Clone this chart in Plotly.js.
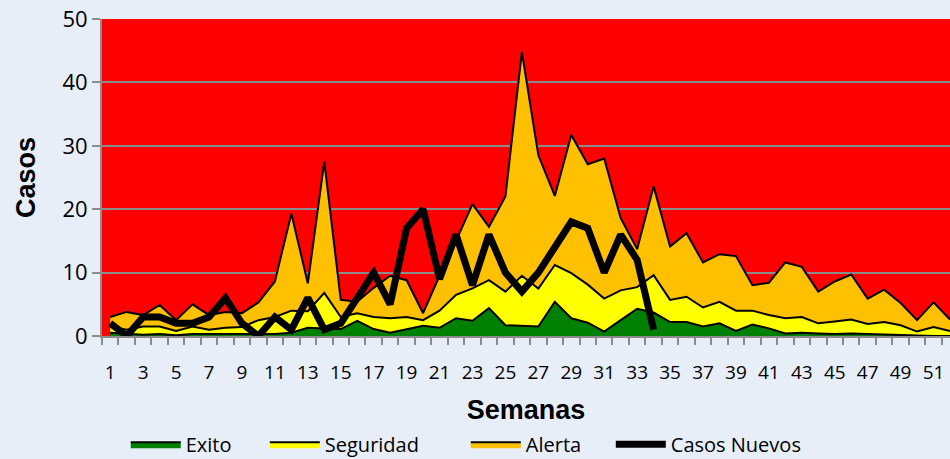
<!DOCTYPE html>
<html>
<head>
<meta charset="utf-8">
<script src="https://cdn.plot.ly/plotly-3.0.1.min.js"></script>
<style>html,body{margin:0;padding:0;background:#e7eef8;}#chart{width:950px;height:459px;}</style>
</head>
<body>
<div id="chart"></div>
<script>
// Weeks (categories)
const weeks = [1,2,3,4,5,6,7,8,9,10,11,12,13,14,15,16,17,18,19,20,21,22,23,24,25,26,
               27,28,29,30,31,32,33,34,35,36,37,38,39,40,41,42,43,44,45,46,47,48,49,50,51,52];
// Channel thresholds (cumulative levels)
const exito = [0.5,0.3,0.2,0.3,0.1,0.3,0.3,0.2,0.3,0.3,0.3,0.5,1.3,1.2,1.1,2.4,1.1,0.5,1.1,1.6,1.3,2.8,2.4,4.4,1.7,1.6,
               1.5,5.4,2.8,2.1,0.7,2.5,4.3,3.7,2.2,2.2,1.5,2.0,0.8,1.8,1.2,0.4,0.5,0.4,0.3,0.4,0.3,0.2,0.2,0,0,0];
const seguridad = [1.5,1.0,1.5,1.5,0.8,1.5,1.0,1.3,1.4,2.5,3.0,4.0,3.9,6.8,3.0,3.6,3.0,2.8,3.0,2.5,4.0,6.5,7.5,8.8,7.0,9.5,
               7.5,11.2,9.9,8.1,5.9,7.2,7.7,9.6,5.7,6.2,4.5,5.4,4.0,4.0,3.3,2.8,3.0,2.0,2.3,2.6,1.9,2.2,1.7,0.7,1.4,0.8];
const alerta = [3.0,3.8,3.3,4.9,2.5,5.0,3.3,3.8,3.6,5.3,8.6,19.3,8.3,27.5,5.7,5.4,7.6,9.5,8.8,3.6,9.5,15.0,20.8,17.2,22.0,44.8,
               28.5,22.1,31.7,27.1,28.0,18.6,13.7,23.6,14.1,16.2,11.6,12.9,12.6,8.0,8.4,11.6,10.9,7.0,8.6,9.7,5.9,7.3,5.2,2.5,5.3,2.6];
// New cases (weeks 1-34)
const casosWeeks = weeks.slice(0, 34);
const casosNuevos = [2,0,3,3,2,2,3,6,2,0,3,1,6,1,2,6,10,5,17,20,9,16,8,16,10,7,10,14,18,17,10,16,12,1];
// Tick labels
const tickWeeks = [1,3,5,7,9,11,13,15,17,19,21,23,25,27,29,31,33,35,37,39,41,43,45,47,49,51];

const txt = '"Open Sans", "Noto Sans", sans-serif';
const bold = '"Liberation Sans", Arial, sans-serif';

const traces = [
  {x: weeks, y: exito, name: 'Exito', type: 'scatter', mode: 'lines', fill: 'tozeroy',
   fillcolor: '#008000', line: {color: '#000000', width: 2}, legend: 'legend'},
  {x: weeks, y: seguridad, name: 'Seguridad', type: 'scatter', mode: 'lines', fill: 'tonexty',
   fillcolor: '#ffff00', line: {color: '#000000', width: 2}, legend: 'legend2'},
  {x: weeks, y: alerta, name: 'Alerta', type: 'scatter', mode: 'lines', fill: 'tonexty',
   fillcolor: '#ffc000', line: {color: '#000000', width: 2}, legend: 'legend3'},
  {x: casosWeeks, y: casosNuevos, name: 'Casos Nuevos', type: 'scatter', mode: 'lines',
   line: {color: '#000000', width: 7}, legend: 'legend4'}
];

const legBase = {
  orientation: 'h', yref: 'container', y: 0.032, yanchor: 'middle', xanchor: 'left',
  font: {family: txt, size: 20, color: '#000'},
  bgcolor: 'rgba(0,0,0,0)', itemwidth: 50
};

const layout = {
  width: 950, height: 459,
  margin: {l: 102, r: 0, t: 19, b: 123},
  paper_bgcolor: '#e7eef8',
  plot_bgcolor: '#ff0000',
  showlegend: true,
  hovermode: false,
  xaxis: {
    automargin: false,
    range: [0.5, 52.0],
    tickvals: tickWeeks, ticktext: tickWeeks.map(String),
    ticks: '', showgrid: false, zeroline: false,
    showline: true, linecolor: '#8c8c8c', linewidth: 2,
    tickfont: {family: txt, size: 19, color: '#000'},
    ticklabelstandoff: 18,
    minor: {tick0: 0.5, dtick: 1, ticks: 'outside', ticklen: 7, tickcolor: '#8c8c8c', tickwidth: 2, showgrid: false},
    title: {text: 'Semanas', font: {family: bold, size: 27, color: '#000', weight: 'bold'}, standoff: 25}
  },
  yaxis: {
    automargin: false,
    range: [0, 50], tickvals: [0,10,20,30,40,50],
    ticks: 'outside', ticklen: 8, tickcolor: '#8c8c8c', tickwidth: 2,
    showgrid: true, gridcolor: '#8c8c8c', gridwidth: 2,
    zeroline: false, showline: true, linecolor: '#8c8c8c', linewidth: 2,
    tickfont: {family: txt, size: 22, color: '#000'},
    title: {text: 'Casos', font: {family: bold, size: 27, color: '#000', weight: 'bold'}, standoff: 19}
  },
  legend: Object.assign({}, legBase, {x: 0.028}),
  legend2: Object.assign({}, legBase, {x: 0.192}),
  legend3: Object.assign({}, legBase, {x: 0.429}),
  legend4: Object.assign({}, legBase, {x: 0.600})
};

Plotly.newPlot('chart', traces, layout, {displayModeBar: false, staticPlot: true});
</script>
</body>
</html>
